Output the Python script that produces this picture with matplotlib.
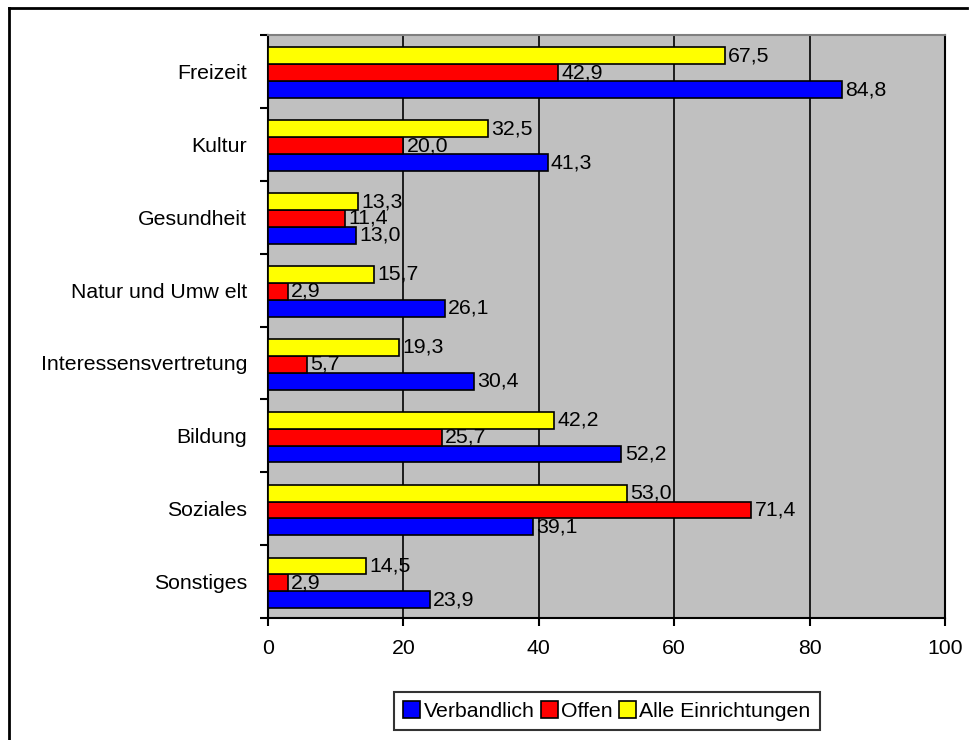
import matplotlib.pyplot as plt
from matplotlib.lines import Line2D
import numpy as np

plt.rcParams['font.family'] = ['Liberation Sans', 'DejaVu Sans']

categories = ['Freizeit', 'Kultur', 'Gesundheit', 'Natur und Umw elt',
              'Interessensvertretung', 'Bildung', 'Soziales', 'Sonstiges']
verbandlich = [84.8, 41.3, 13.0, 26.1, 30.4, 52.2, 39.1, 23.9]
offen = [42.9, 20.0, 11.4, 2.9, 5.7, 25.7, 71.4, 2.9]
alle = [67.5, 32.5, 13.3, 15.7, 19.3, 42.2, 53.0, 14.5]
series_names = ['Verbandlich', 'Offen', 'Alle Einrichtungen']
x_ticks = [0, 20, 40, 60, 80, 100]

fs = 15.3
fig = plt.figure(figsize=(9.76, 7.40), dpi=100)
ax = fig.add_axes([268 / 976, 122 / 740, 677 / 976, 583 / 740])
ax.set_facecolor('#c0c0c0')

n = len(categories)
y = np.arange(n)[::-1]
h = 0.232
shift = -0.018
series = [(verbandlich, '#0000ff', -h + shift), (offen, '#ff0000', shift), (alle, '#ffff00', h + shift)]
for (vals, col, off), name in zip(series, series_names):
    bars = ax.barh(y + off, vals, height=h, color=col, edgecolor='black',
                   linewidth=1.2, label=name, zorder=3)
    for b, v in zip(bars, vals):
        ax.text(b.get_width() + 0.5, b.get_y() + b.get_height() / 2,
                f'{v:.1f}'.replace('.', ','), va='center', ha='left',
                fontsize=fs, zorder=4)

ax.set_xlim(0, 100)
ax.set_ylim(-0.5, n - 0.5)
ax.set_xticks(x_ticks)
ax.grid(axis='x', color='black', linewidth=1.2, zorder=1)
ax.set_yticks(np.arange(-0.5, n, 1))
ax.set_yticklabels([])
ax.set_yticks(y, minor=True)
ax.set_yticklabels(categories, minor=True, fontsize=fs)
ax.tick_params(axis='y', which='minor', length=0, pad=15)
ax.tick_params(axis='y', which='major', length=6, width=1.5, direction='out')
ax.tick_params(axis='x', length=6, width=1.5, direction='out', labelsize=fs, pad=9)
for s in ['left', 'bottom', 'right']:
    ax.spines[s].set_color('black')
    ax.spines[s].set_linewidth(1.5)
ax.spines['top'].set_color('#808080')
ax.spines['top'].set_linewidth(1.5)

handles, labels = ax.get_legend_handles_labels()
leg = fig.legend(handles, labels, loc='center', bbox_to_anchor=(607 / 976, 29 / 740),
                 ncol=3, fontsize=fs, frameon=True, fancybox=False,
                 edgecolor='black', handlelength=0.8, handleheight=0.8,
                 handletextpad=0.15, columnspacing=0.3, borderpad=0.45)
leg.get_frame().set_linewidth(1.5)

# outer chart frame
fig.add_artist(Line2D([9 / 976, 9 / 976], [0, 1 - 8 / 740], color='black', linewidth=2))
fig.add_artist(Line2D([9 / 976, 967 / 976], [1 - 8 / 740, 1 - 8 / 740], color='black', linewidth=2))

fig.savefig('out.png', dpi=100)
